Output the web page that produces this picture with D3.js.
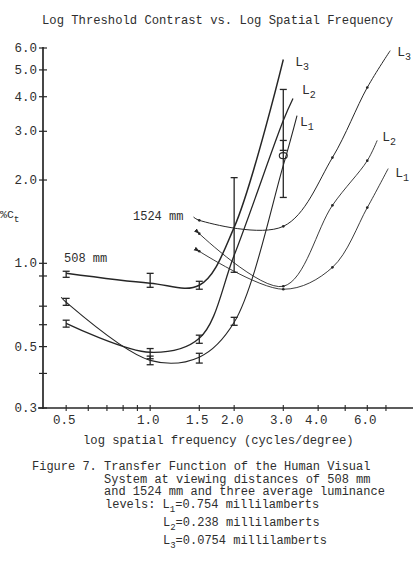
<!DOCTYPE html>
<html>
<head>
<meta charset="utf-8">
<script src="https://cdn.jsdelivr.net/npm/d3@7"></script>
<style>
  body { margin: 0; background: #fff; }
  svg { display: block; }
  text { font-family: "Liberation Mono", "DejaVu Sans Mono", monospace; fill: #2e2e2e; }
</style>
</head>
<body>
<div id="chart"></div>
<script>
// axis ticks
var yTickLabels = [0.3, 0.5, 1.0, 2.0, 3.0, 4.0, 5.0, 6.0];
var yMinorTicks = [0.4, 0.6, 0.7, 0.9];
var xTickLabels = [0.5, 1.0, 1.5, 2.0, 3.0, 4.0, 6.0];
var xMinorTicks = [0.6, 0.7, 0.8, 0.9, 5.0, 7.0];

// 508 mm viewing distance, [cycles/degree, %Ct]
var near_L1 = [[0.48, 0.754], [0.5, 0.723], [1.0, 0.446], [1.5, 0.458], [2.0, 0.612], [3.0, 2.26], [3.36, 3.42]];
var near_L2 = [[0.5, 0.607], [1.0, 0.477], [1.5, 0.536], [2.0, 1.069], [3.0, 3.28], [3.25, 3.94]];
var near_L3 = [[0.5, 0.920], [1.0, 0.847], [1.5, 0.833], [2.0, 1.349], [3.0, 5.45]];

// error bars, [cycles/degree, low, high]
var near_L1_err = [[0.5, 0.705, 0.747], [1.0, 0.430, 0.462], [1.5, 0.436, 0.473], [2.0, 0.597, 0.638], [3.0, 1.73, 2.78]];
var near_L2_err = [[0.5, 0.588, 0.623], [1.0, 0.452, 0.492], [1.5, 0.514, 0.550], [3.0, 2.56, 4.25]];
var near_L3_err = [[0.5, 0.890, 0.936], [1.0, 0.819, 0.920], [1.5, 0.806, 0.861], [2.0, 0.928, 2.04]];
var circled = [[3.0, 2.45]];

// 1524 mm viewing distance
var far_L1 = [[1.5, 1.105], [3.0, 0.806], [4.5, 0.967], [6.0, 1.59], [7.13, 2.20]];
var far_L2 = [[1.5, 1.28], [3.0, 0.826], [4.5, 1.62], [6.0, 2.35], [6.51, 2.78]];
var far_L3 = [[1.43, 1.47], [1.5, 1.43], [3.0, 1.36], [4.5, 2.41], [6.0, 4.32], [7.25, 5.87]];
var far_dots = [1.5, 3.0, 4.5, 6.0];

var captionLines = [
  "Figure 7. Transfer Function of the Human Visual",
  "          System at viewing distances of 508 mm",
  "          and 1524 mm and three average luminance"
];

var W = 413, H = 573;

var xScale = d3.scaleLog().domain([0.413, 8.75]).range([43, 413]);
var yScale = d3.scaleLog().domain([0.3, 6.0]).range([408, 48]);

var svg = d3.select("#chart").append("svg")
    .attr("width", W)
    .attr("height", H);

var ink = "#262626";

// title
svg.append("text")
    .attr("x", 42).attr("y", 24)
    .attr("font-size", 12.2)
    .attr("xml:space", "preserve")
    .text("Log Threshold Contrast vs. Log Spatial Frequency");

// axes
var axes = svg.append("g").attr("stroke", ink).attr("fill", "none");
axes.append("line").attr("x1", 43).attr("x2", 43).attr("y1", 47).attr("y2", 409).attr("stroke-width", 1.7);
axes.append("line").attr("x1", 38).attr("x2", 413).attr("y1", 408).attr("y2", 408).attr("stroke-width", 1.5);

axes.selectAll(".yt").data(yTickLabels.concat(yMinorTicks)).enter()
    .append("line")
    .attr("x1", 39).attr("x2", 47)
    .attr("y1", d => yScale(d)).attr("y2", d => yScale(d))
    .attr("stroke-width", 1.2);

axes.selectAll(".xt").data(xTickLabels.concat(xMinorTicks)).enter()
    .append("line")
    .attr("x1", d => xScale(d)).attr("x2", d => xScale(d))
    .attr("y1", 405).attr("y2", 411)
    .attr("stroke-width", 1.1);

svg.selectAll(".ytl").data(yTickLabels).enter()
    .append("text")
    .attr("x", 37).attr("y", d => yScale(d) + 4)
    .attr("text-anchor", "end")
    .attr("font-size", 12.5)
    .text(d => d.toFixed(1));

svg.selectAll(".xtl").data(xTickLabels).enter()
    .append("text")
    .attr("x", d => xScale(d) - 2).attr("y", 424)
    .attr("text-anchor", "middle")
    .attr("font-size", 12.5)
    .text(d => d.toFixed(1));

// axis titles
svg.append("text")
    .attr("x", 83).attr("y", 444)
    .attr("font-size", 12.2)
    .text("log spatial frequency (cycles/degree)");

var yl = svg.append("text").attr("x", 0).attr("y", 218).attr("font-size", 11.5);
yl.append("tspan").text("%C");
yl.append("tspan").attr("font-size", 9.5).attr("dy", 4).text("t");

// arrowhead for 1524 mm starts
svg.append("defs").append("marker")
    .attr("id", "arrow")
    .attr("viewBox", "0 0 10 10")
    .attr("refX", 1).attr("refY", 5)
    .attr("markerWidth", 6).attr("markerHeight", 6)
    .attr("markerUnits", "userSpaceOnUse")
    .attr("orient", "auto-start-reverse")
    .append("path")
    .attr("d", "M0,5 L10,1.5 L10,8.5 Z")
    .attr("fill", ink);

var line = d3.line()
    .x(d => xScale(d[0]))
    .y(d => yScale(d[1]))
    .curve(d3.curveCatmullRom.alpha(0.5));

var curves = [
  { pts: near_L1, err: near_L1_err, w: 1.1, sub: "1", dx: 3, dy: 10 },
  { pts: near_L2, err: near_L2_err, w: 1.3, sub: "2", dx: 9, dy: -5 },
  { pts: near_L3, err: near_L3_err, w: 1.5, sub: "3", dx: 12, dy: 6 },
  { pts: far_L1, err: [], w: 0.9, sub: "1", dx: 7, dy: 8, arrow: true },
  { pts: far_L2, err: [], w: 0.9, sub: "2", dx: 5, dy: 1, arrow: true },
  { pts: far_L3, err: [], w: 1.0, sub: "3", dx: 7, dy: 5 }
];

curves.forEach(function(c, i) {
    svg.append("path")
        .datum(c.pts)
        .attr("d", line)
        .attr("fill", "none")
        .attr("stroke", ink)
        .attr("stroke-width", c.w)
        .attr("marker-start", c.arrow ? "url(#arrow)" : null);

    // error bars
    var g = svg.append("g").attr("stroke", ink).attr("stroke-width", 1.3);
    c.err.forEach(function(e) {
        var x = xScale(e[0]);
        g.append("line").attr("x1", x).attr("x2", x).attr("y1", yScale(e[1])).attr("y2", yScale(e[2]));
        g.append("line").attr("x1", x - 3.5).attr("x2", x + 3.5).attr("y1", yScale(e[1])).attr("y2", yScale(e[1]));
        g.append("line").attr("x1", x - 3.5).attr("x2", x + 3.5).attr("y1", yScale(e[2])).attr("y2", yScale(e[2]));
    });

    // dots on 1524 mm data points
    if (i >= 3) {
        svg.selectAll(null)
            .data(c.pts.filter(p => far_dots.indexOf(p[0]) >= 0))
            .enter()
            .append("circle")
            .attr("cx", d => xScale(d[0]))
            .attr("cy", d => yScale(d[1]))
            .attr("r", 1.3)
            .attr("fill", ink);
    }

    // curve label at the end of each line
    var last = c.pts[c.pts.length - 1];
    var t = svg.append("text")
        .attr("x", xScale(last[0]) + c.dx)
        .attr("y", yScale(last[1]) + c.dy)
        .attr("font-size", 13);
    t.append("tspan").text("L");
    t.append("tspan").attr("font-size", 10).attr("dy", 4).text(c.sub);
});

svg.selectAll(".circ").data(circled).enter()
    .append("ellipse")
    .attr("cx", d => xScale(d[0]))
    .attr("cy", d => yScale(d[1]))
    .attr("rx", 4).attr("ry", 3)
    .attr("fill", "none")
    .attr("stroke", ink)
    .attr("stroke-width", 1.1);

// distance labels
svg.append("text").attr("x", 64).attr("y", 262).attr("font-size", 12).text("508 mm");
svg.append("text").attr("x", 133).attr("y", 220).attr("font-size", 12).text("1524 mm");

// caption
svg.selectAll(".cap").data(captionLines).enter()
    .append("text")
    .attr("x", 32)
    .attr("y", (d, i) => 470 + i * 12.5)
    .attr("font-size", 12)
    .attr("xml:space", "preserve")
    .text(d => d);

var lum = [["levels: L", "1", "=0.754 millilamberts", 105, 508],
           ["L", "2", "=0.238 millilamberts", 163, 526],
           ["L", "3", "=0.0754 millilamberts", 163, 544]];
lum.forEach(function(r) {
    var t = svg.append("text").attr("x", r[3]).attr("y", r[4]).attr("font-size", 12).attr("xml:space", "preserve");
    t.append("tspan").text(r[0]);
    t.append("tspan").attr("font-size", 9).attr("dy", 4).text(r[1]);
    t.append("tspan").attr("dy", -4).text(r[2]);
});
</script>
</body>
</html>
